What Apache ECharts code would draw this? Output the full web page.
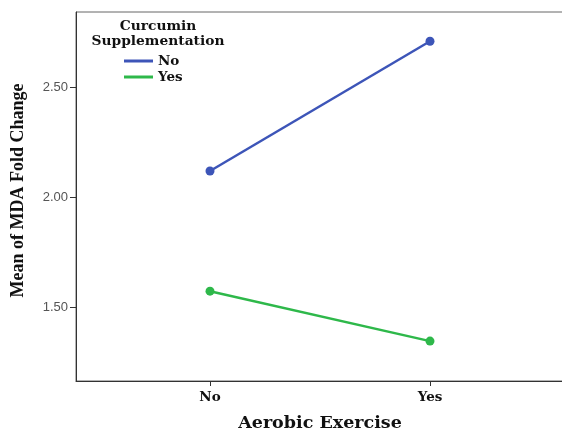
<!DOCTYPE html>
<html>
<head>
<meta charset="utf-8">
<script src="https://cdn.jsdelivr.net/npm/echarts@6/dist/echarts.min.js"></script>
<style>html,body{margin:0;padding:0;background:#fff}#c{width:562px;height:430px}</style>
</head>
<body>
<div id="c"></div>
<script>
var categories = ['No', 'Yes'];
var seriesNames = ['No', 'Yes'];
var curcuminNo = [2.118, 2.708];
var curcuminYes = [1.572, 1.345];
var yTicks = [1.50, 2.00, 2.50];

var serifBold = '"DejaVu Serif", serif';
var chart = echarts.init(document.getElementById('c'));
chart.setOption({
  animation: false,
  backgroundColor: '#fff',
  title: {
    text: 'Curcumin\nSupplementation',
    left: 153, top: 14, textAlign: 'center',
    textStyle: { fontFamily: serifBold, fontWeight: 'bold', fontSize: 13.8, lineHeight: 15, color: '#111' }
  },
  legend: {
    orient: 'vertical', left: 119, top: 49, itemWidth: 29, itemHeight: 3, itemGap: 2,
    icon: 'rect',
    data: seriesNames,
    textStyle: { fontFamily: serifBold, fontWeight: 'bold', fontSize: 13.5, color: '#111', padding: [0,0,0,0] }
  },
  grid: { left: 76, top: 12, right: -4, bottom: 49, show: true, borderColor: '#666', borderWidth: 1, outerBoundsMode: 'none', containLabel: false },
  xAxis: {
    type: 'value', min: -134/220, max: 356/220, interval: 1,
    splitLine: { show: false },
    axisLine: { onZero: false, lineStyle: { color: '#333', width: 1 } },
    axisTick: { length: 5, lineStyle: { color: '#333' }, customValues: [0, 1] },
    axisLabel: {
      customValues: [0, 1],
      formatter: function (v) { return categories[Math.round(v)] || ''; },
      fontFamily: serifBold, fontWeight: 'bold', fontSize: 13.5, color: '#111', margin: 9
    },
    name: 'Aerobic Exercise', nameLocation: 'middle', nameGap: 33,
    nameTextStyle: { fontFamily: serifBold, fontWeight: 'bold', fontSize: 17.5, color: '#111', padding: [0, 0, 0, -2] }
  },
  yAxis: {
    type: 'value', min: 2.0 - 184/220, max: 2.5 + 75/220,
    splitLine: { show: false },
    axisLine: { show: true, onZero: false, lineStyle: { color: '#333', width: 1 } },
    axisTick: { show: true, length: 6, inside: false, lineStyle: { color: '#333' }, customValues: yTicks },
    axisLabel: {
      customValues: yTicks,
      formatter: function (v) { return v.toFixed(2); },
      fontFamily: 'Arial, "Liberation Sans", sans-serif', fontSize: 13, color: '#555', margin: 8
    },
    name: 'Mean of MDA Fold Change', nameLocation: 'middle', nameGap: 49, nameRotate: 90,
    nameTextStyle: { fontFamily: '"Liberation Serif", "Times New Roman", serif', fontWeight: 'bold', fontSize: 18, color: '#111', padding: [0, 0, 0, 12] }
  },
  series: [
    { name: seriesNames[0], type: 'line', data: [[0, curcuminNo[0]], [1, curcuminNo[1]]],
      symbol: 'circle', symbolSize: 9, color: '#3d55b8', lineStyle: { width: 2.5, color: '#3d55b8' } },
    { name: seriesNames[1], type: 'line', data: [[0, curcuminYes[0]], [1, curcuminYes[1]]],
      symbol: 'circle', symbolSize: 9, color: '#2eb84a', lineStyle: { width: 2.5, color: '#2eb84a' } }
  ]
});
</script>
</body>
</html>
